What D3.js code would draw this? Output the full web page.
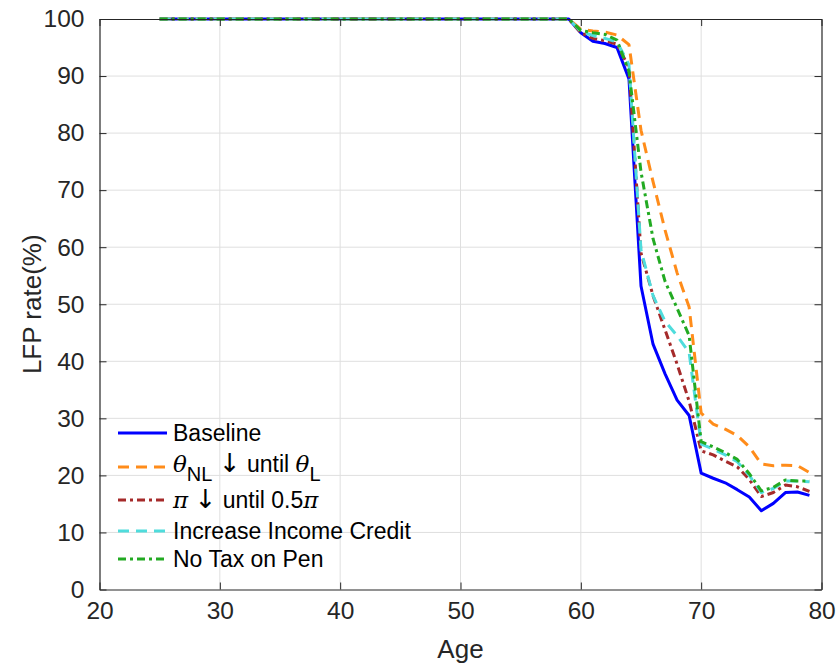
<!DOCTYPE html>
<html>
<head>
<meta charset="utf-8">
<script src="https://cdn.jsdelivr.net/npm/d3@7"></script>
<style>
  html, body { margin: 0; padding: 0; background: #fff; }
  svg { display: block; }
  text { font-family: "Liberation Sans", Arial, Helvetica, sans-serif; }
</style>
</head>
<body>
<script>
// ---------------- data ----------------
const ages = [25,26,27,28,29,30,31,32,33,34,35,36,37,38,39,40,41,42,43,44,45,46,47,48,49,50,51,52,53,54,55,56,57,58,59,
              60,61,62,63,64,65,66,67,68,69,70,71,72,73,74,75,76,77,78,79];

const baseline = [100,100,100,100,100,100,100,100,100,100,100,100,100,100,100,100,100,100,100,100,100,100,100,100,100,100,100,100,100,100,100,100,100,100,100,
                  97.6,96.1,95.7,95.0,89.5,53.2,43.0,37.8,33.2,30.5,20.4,19.5,18.7,17.5,16.2,13.8,15.1,17.0,17.1,16.5];

const thetaNL = [100,100,100,100,100,100,100,100,100,100,100,100,100,100,100,100,100,100,100,100,100,100,100,100,100,100,100,100,100,100,100,100,100,100,100,
                 98.2,97.9,97.7,97.2,95.5,80.5,71.5,63.0,55.5,49.5,30.9,29.0,28.1,27.0,25.0,22.0,21.7,21.8,21.7,20.5];

const piHalf = [100,100,100,100,100,100,100,100,100,100,100,100,100,100,100,100,100,100,100,100,100,100,100,100,100,100,100,100,100,100,100,100,100,100,100,
                97.6,96.6,96.2,95.6,91.5,59.0,51.5,45.5,39.5,33.0,24.3,23.6,22.5,21.5,19.3,16.3,17.0,18.3,18.0,17.2];

const incomeCredit = [100,100,100,100,100,100,100,100,100,100,100,100,100,100,100,100,100,100,100,100,100,100,100,100,100,100,100,100,100,100,100,100,100,100,100,
                      97.8,97.1,96.6,96.0,92.0,59.5,51.5,47.0,44.5,41.5,25.5,24.6,23.6,22.4,20.0,17.0,17.7,19.0,19.0,18.9];

const noTaxPen = [100,100,100,100,100,100,100,100,100,100,100,100,100,100,100,100,100,100,100,100,100,100,100,100,100,100,100,100,100,100,100,100,100,100,100,
                  98.0,97.6,97.3,96.3,90.8,73.2,61.5,54.0,49.3,44.5,25.9,25.0,24.0,22.8,20.3,17.3,17.9,19.2,19.0,19.0];

const xTicks = [20,30,40,50,60,70,80];
const yTicks = [0,10,20,30,40,50,60,70,80,90,100];

const seriesNames = ["Baseline", "thetaNL", "piHalf", "Increase Income Credit", "No Tax on Pen"];

// ---------------- layout ----------------
const W = 839, H = 669;
const L = 99.5, T = 19, R = 821.5, B = 589.5;
const axisColor = "#262626";

const svg = d3.select("body").append("svg").attr("width", W).attr("height", H);

const x = d3.scaleLinear().domain([20, 80]).range([L, R]);
const y = d3.scaleLinear().domain([0, 100]).range([B, T]);

// grid
const grid = svg.append("g");
grid.selectAll("line.vx").data(xTicks.slice(1, -1)).enter().append("line")
  .attr("x1", d => x(d)).attr("x2", d => x(d)).attr("y1", T).attr("y2", B)
  .attr("stroke", "#dfdfdf").attr("stroke-width", 1);
grid.selectAll("line.hy").data(yTicks.slice(1, -1)).enter().append("line")
  .attr("x1", L).attr("x2", R).attr("y1", d => y(d)).attr("y2", d => y(d))
  .attr("stroke", "#dfdfdf").attr("stroke-width", 1);

// series
const styles = [
  { data: baseline, color: "#0000ff", dash: null, w: 3 },
  { data: thetaNL, color: "#ff8c1a", dash: "11,7", w: 3 },
  { data: piHalf, color: "#a52a2a", dash: "8,4,3,4", w: 3 },
  { data: incomeCredit, color: "#4fdcdc", dash: "11,7", w: 3 },
  { data: noTaxPen, color: "#22aa22", dash: "8,4,3,4", w: 3 }
];

const line = d3.line().x(d => x(d[0])).y(d => y(d[1]));
const plot = svg.append("g");
styles.forEach(s => {
  plot.append("path")
    .datum(ages.map((a, i) => [a, s.data[i]]))
    .attr("d", line)
    .attr("fill", "none")
    .attr("stroke", s.color)
    .attr("stroke-width", s.w)
    .attr("stroke-linejoin", "round")
    .attr("stroke-dasharray", s.dash);
});

// axes (MATLAB-style box with inward ticks)
const tickLen = 7;
const xAxisB = d3.axisBottom(x).tickValues(xTicks).tickSizeInner(-tickLen).tickSizeOuter(0).tickPadding(12);
const xAxisT = d3.axisTop(x).tickValues(xTicks).tickSizeInner(-tickLen).tickSizeOuter(0).tickFormat("");
const yAxisL = d3.axisLeft(y).tickValues(yTicks).tickSizeInner(-tickLen).tickSizeOuter(0).tickPadding(15);
const yAxisR = d3.axisRight(y).tickValues(yTicks).tickSizeInner(-tickLen).tickSizeOuter(0).tickFormat("");

function styleAxis(g) {
  g.selectAll("path.domain").attr("stroke", axisColor).attr("stroke-width", 1.2);
  g.selectAll(".tick line").attr("stroke", axisColor).attr("stroke-width", 1);
  g.selectAll(".tick text").attr("fill", axisColor).attr("font-size", 24.5)
    .attr("font-family", '"Liberation Sans", Arial, Helvetica, sans-serif');
}

svg.append("g").attr("transform", `translate(0,${B})`).call(xAxisB).call(styleAxis)
  .selectAll(".tick text").attr("dy", "0.71em");
svg.append("g").attr("transform", `translate(0,${T})`).call(xAxisT).call(styleAxis);
svg.append("g").attr("transform", `translate(${L},0)`).call(yAxisL).call(styleAxis);
svg.append("g").attr("transform", `translate(${R},0)`).call(yAxisR).call(styleAxis);

// axis labels
svg.append("text").attr("x", (L + R) / 2).attr("y", 658).attr("text-anchor", "middle")
  .attr("font-size", 26).attr("fill", axisColor).text("Age");
svg.append("text").attr("transform", `translate(41,${(T + B) / 2}) rotate(-90)`)
  .attr("text-anchor", "middle").attr("font-size", 26).attr("fill", axisColor).text("LFP rate(%)");

// legend (no box)
const legRows = [433, 467, 500, 531, 559];
const leg = svg.append("g");
styles.forEach((s, i) => {
  leg.append("line").attr("x1", 118).attr("x2", 167).attr("y1", legRows[i]).attr("y2", legRows[i])
    .attr("stroke", s.color).attr("stroke-width", 3).attr("stroke-dasharray", s.dash);
});
const fs = 23;
const serif = '"DejaVu Serif", "Liberation Serif", serif';
const arrowFont = '"DejaVu Sans", sans-serif';
function legText(i) {
  return leg.append("text").attr("x", 173).attr("y", legRows[i] + 8).attr("font-size", fs).attr("fill", "#000");
}
legText(0).text(seriesNames[0]);
{
  const t = legText(1).attr("y", legRows[1] + 5);
  t.append("tspan").attr("font-family", serif).attr("font-style", "italic").text("θ");
  t.append("tspan").attr("dy", 9).attr("font-size", 20).text("NL");
  t.append("tspan").attr("dy", -9).text(" ");
  t.append("tspan").attr("font-family", arrowFont).attr("font-size", 26).text("↓");
  t.append("tspan").text(" until ");
  t.append("tspan").attr("font-family", serif).attr("font-style", "italic").text("θ");
  t.append("tspan").attr("dy", 9).attr("font-size", 20).text("L");
}
{
  const t = legText(2);
  t.append("tspan").attr("font-family", serif).attr("font-style", "italic").text("π");
  t.append("tspan").text(" ");
  t.append("tspan").attr("font-family", arrowFont).attr("font-size", 26).text("↓");
  t.append("tspan").text(" until 0.5");
  t.append("tspan").attr("font-family", serif).attr("font-style", "italic").text("π");
}
legText(3).text(seriesNames[3]);
legText(4).text(seriesNames[4]);
</script>
</body>
</html>
